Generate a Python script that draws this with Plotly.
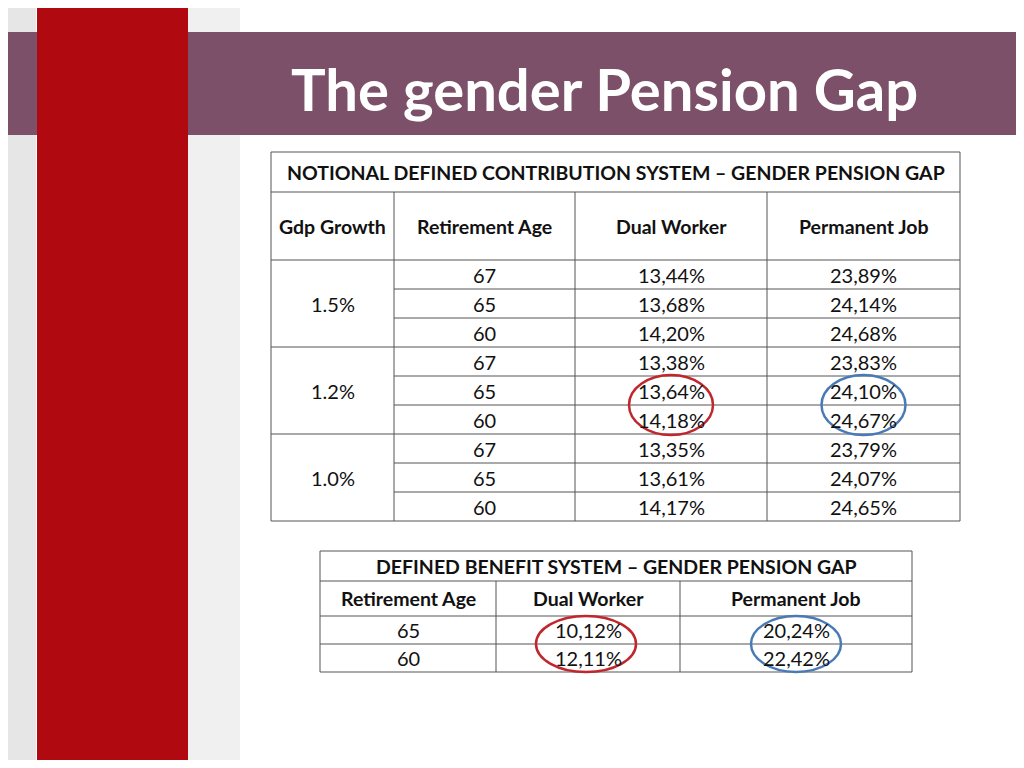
import plotly.graph_objects as go

# data
ndc_title = "NOTIONAL DEFINED CONTRIBUTION SYSTEM – GENDER PENSION GAP"
ndc_headers = ["Gdp Growth", "Retirement Age", "Dual Worker", "Permanent Job"]
gdp_growth = ["1.5%", "1.2%", "1.0%"]
ndc_age = ["67", "65", "60", "67", "65", "60", "67", "65", "60"]
ndc_dual = ["13,44%", "13,68%", "14,20%", "13,38%", "13,64%", "14,18%", "13,35%", "13,61%", "14,17%"]
ndc_perm = ["23,89%", "24,14%", "24,68%", "23,83%", "24,10%", "24,67%", "23,79%", "24,07%", "24,65%"]

db_title = "DEFINED BENEFIT SYSTEM – GENDER PENSION GAP"
db_headers = ["Retirement Age", "Dual Worker", "Permanent Job"]
db_age = ["65", "60"]
db_dual = ["10,12%", "12,11%"]
db_perm = ["20,24%", "22,42%"]

FONT = "Lato"
LINE = "#555555"
HS = 19.5   # header font size
DS = 20     # data font size
shapes = []
ann = []


def line(x0, y0, x1, y1):
    shapes.append(dict(type="line", x0=x0, y0=y0, x1=x1, y1=y1, xref="x", yref="y",
                       line=dict(color=LINE, width=1)))


def text(x, y, s, size=DS, bold=False, color="#111111"):
    ann.append(dict(x=x, y=y, xref="x", yref="y", text=f"<b>{s}</b>" if bold else s,
                    showarrow=False, font=dict(family=FONT, size=size, color=color)))


# background decoration
shapes.append(dict(type="rect", x0=0, x1=36, y0=0, y1=768, fillcolor="#e6e6e6", line_width=0, layer="below"))
shapes.append(dict(type="rect", x0=188, x1=240, y0=0, y1=768, fillcolor="#f0f0f0", line_width=0, layer="below"))
shapes.append(dict(type="rect", x0=0, x1=1024, y0=32, y1=135, fillcolor="#7b5068", line_width=0, layer="below"))
shapes.append(dict(type="rect", x0=37, x1=188, y0=0, y1=768, fillcolor="#b00a10", line_width=0, layer="below"))
text(604, 88, "The gender Pension Gap", size=58, bold=True, color="white")

# NDC table
cols = [271, 394, 575, 767, 960]
top, h1, h2, rh = 152, 40, 68, 29
r0 = top + h1 + h2
n = len(ndc_age)
bottom = r0 + rh * n
line(cols[0], top, cols[-1], top)
line(cols[0], top + h1, cols[-1], top + h1)
line(cols[0], r0, cols[-1], r0)
for c in [cols[0], cols[-1]]:
    line(c, top, c, bottom)
for c in cols[1:-1]:
    line(c, top + h1, c, bottom)
for i in range(1, n + 1):
    y = r0 + rh * i
    x0 = cols[0] if i % 3 == 0 else cols[1]
    line(x0, y, cols[-1], y)
text((cols[0] + cols[-1]) / 2, top + h1 / 2, ndc_title, size=HS, bold=True)
for j, hd in enumerate(ndc_headers):
    text((cols[j] + cols[j + 1]) / 2, top + h1 + h2 / 2, hd, size=HS, bold=True)
for g, val in enumerate(gdp_growth):
    text((cols[0] + cols[1]) / 2, r0 + rh * (3 * g + 1.5), val)
for i in range(n):
    yc = r0 + rh * (i + 0.5)
    for j, arr in enumerate([ndc_age, ndc_dual, ndc_perm]):
        text((cols[j + 1] + cols[j + 2]) / 2, yc, arr[i])

# circles on NDC
for cx, col in [((cols[2] + cols[3]) / 2, "#c0272d"), ((cols[3] + cols[4]) / 2, "#4a7ab5")]:
    cy = r0 + rh * 5
    shapes.append(dict(type="circle", x0=cx - 42, x1=cx + 42, y0=cy - 30, y1=cy + 30,
                       line=dict(color=col, width=2.5)))

# DB table
dcols = [320, 496, 680, 912]
dtop, dh1, dh2, drh = 551, 30, 35, 28
dr0 = dtop + dh1 + dh2
dbottom = dr0 + drh * len(db_age)
for y in [dtop, dtop + dh1, dr0] + [dr0 + drh * (i + 1) for i in range(len(db_age))]:
    line(dcols[0], y, dcols[-1], y)
for c in [dcols[0], dcols[-1]]:
    line(c, dtop, c, dbottom)
for c in dcols[1:-1]:
    line(c, dtop + dh1, c, dbottom)
text((dcols[0] + dcols[-1]) / 2, dtop + dh1 / 2, db_title, size=HS, bold=True)
for j, hd in enumerate(db_headers):
    text((dcols[j] + dcols[j + 1]) / 2, dtop + dh1 + dh2 / 2, hd, size=HS, bold=True)
for i in range(len(db_age)):
    yc = dr0 + drh * (i + 0.5)
    for j, arr in enumerate([db_age, db_dual, db_perm]):
        text((dcols[j] + dcols[j + 1]) / 2, yc, arr[i])
for cx, rx, col in [(586, 50, "#c0272d"), (796, 45, "#4a7ab5")]:
    cy = dr0 + drh
    shapes.append(dict(type="circle", x0=cx - rx, x1=cx + rx, y0=cy - 28, y1=cy + 28,
                       line=dict(color=col, width=2.5)))

# page has an 8px body margin, so the figure covers 8..1016 x 8..760
fig = go.Figure()
fig.update_layout(width=1008, height=752, margin=dict(l=0, r=0, t=0, b=0),
                  plot_bgcolor="white", paper_bgcolor="white",
                  xaxis=dict(range=[8, 1016], visible=False, fixedrange=True),
                  yaxis=dict(range=[760, 8], visible=False, fixedrange=True),
                  shapes=shapes, annotations=ann, showlegend=False)
fig.write_html("out.html")
